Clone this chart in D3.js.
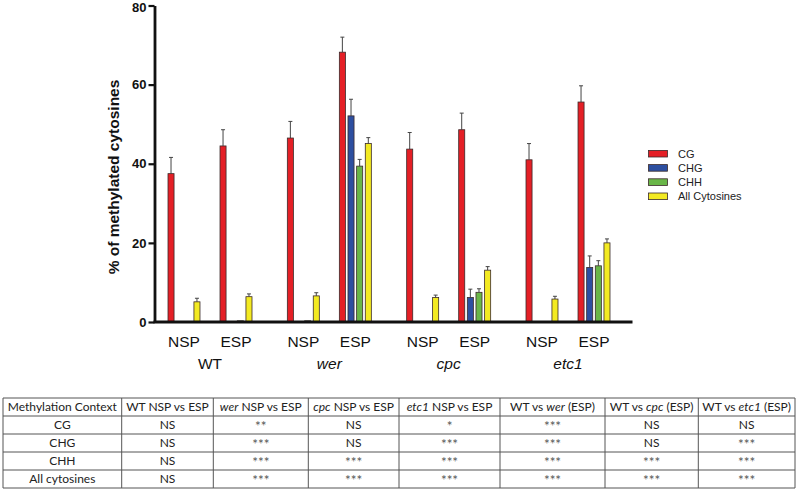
<!DOCTYPE html>
<html>
<head>
<meta charset="utf-8">
<script src="https://cdn.jsdelivr.net/npm/d3@7"></script>
<style>
  html, body { margin: 0; padding: 0; background: #fff; }
  svg { display: block; }
</style>
</head>
<body>
<svg id="chart" width="800" height="489"></svg>
<script>
// ---------------- DATA ----------------
const genotypes = ["WT", "wer", "cpc", "etc1"];
const conditions = ["NSP", "ESP"];
const seriesNames = ["CG", "CHG", "CHH", "All Cytosines"];
const yTicks = [0, 20, 40, 60, 80];

// order of groups: WT NSP, WT ESP, wer NSP, wer ESP, cpc NSP, cpc ESP, etc1 NSP, etc1 ESP
const cgValues  = [37.5, 44.5, 46.5, 68.2, 43.7, 48.6, 41.0, 55.6];
const cgErrors  = [4.1, 4.1, 4.2, 3.8, 4.2, 4.2, 4.1, 4.1];
const chgValues = [0, 0, 0, 52.1, 0, 6.2, 0, 13.8];
const chgErrors = [0, 0, 0, 4.2, 0, 2.1, 0, 2.9];
const chhValues = [0, 0.3, 0.3, 39.4, 0, 7.5, 0, 14.2];
const chhErrors = [0, 0, 0, 1.7, 0, 0.9, 0, 1.3];
const allValues = [5.1, 6.4, 6.6, 45.1, 6.2, 13.1, 5.8, 20.0];
const allErrors = [0.9, 0.7, 0.8, 1.5, 0.6, 0.9, 0.7, 1.0];

const yTitle = "% of methylated cytosines";

const tableHeader = ["Methylation Context", "WT NSP vs ESP", "wer NSP vs ESP", "cpc NSP vs ESP",
  "etc1 NSP vs ESP", "WT vs wer (ESP)", "WT vs cpc (ESP)", "WT vs etc1 (ESP)"];
const tableContexts = ["CG", "CHG", "CHH", "All cytosines"];
const tableCG  = ["NS", "**",  "NS",  "*",   "***", "NS",  "NS"];
const tableCHG = ["NS", "***", "NS",  "***", "***", "NS",  "***"];
const tableCHH = ["NS", "***", "***", "***", "***", "***", "***"];
const tableAll = ["NS", "***", "***", "***", "***", "***", "***"];
const italicWords = ["wer", "cpc", "etc1"];

// ---------------- LAYOUT / STYLE ----------------
const colors = { "CG": "#e41f26", "CHG": "#2d4fa0", "CHH": "#69b648", "All Cytosines": "#f3ea22" };
const tableCols = [3, 121.7, 213.3, 308.3, 399, 500, 605, 698.3, 795];
const tableTop = 398, rowH = 18;

const svg = d3.select("#chart");

const y = d3.scaleLinear().domain([0, 80]).range([322, 5.5]);
const x0 = d3.scaleBand().domain(genotypes).range([150.33, 627.67]).padding(0);
const x1 = d3.scaleBand().domain(conditions).range([17.67, 101.67]).paddingInner(0.385).paddingOuter(0);
const x2 = d3.scaleBand().domain(seriesNames).range([0, x1.bandwidth()]).paddingInner(0.3).paddingOuter(0);

const seriesData = {
  "CG": [cgValues, cgErrors],
  "CHG": [chgValues, chgErrors],
  "CHH": [chhValues, chhErrors],
  "All Cytosines": [allValues, allErrors]
};

const bars = [];
genotypes.forEach((g, gi) => {
  conditions.forEach((c, ci) => {
    const idx = gi * 2 + ci;
    seriesNames.forEach(s => {
      const v = seriesData[s][0][idx], e = seriesData[s][1][idx];
      bars.push({ g, c, s, v, e });
    });
  });
});
const barX = d => x0(d.g) + x1(d.c) + x2(d.s);

// error bars
const eb = svg.append("g").attr("class", "errors");
bars.filter(d => d.e > 0).forEach(d => {
  const cx = barX(d) + x2.bandwidth() / 2;
  eb.append("line").attr("x1", cx).attr("x2", cx)
    .attr("y1", y(d.v)).attr("y2", y(d.v + d.e))
    .attr("stroke", "#444").attr("stroke-width", 1);
  eb.append("line").attr("x1", cx - 2).attr("x2", cx + 2)
    .attr("y1", y(d.v + d.e)).attr("y2", y(d.v + d.e))
    .attr("stroke", "#444").attr("stroke-width", 1);
});

svg.append("g").selectAll("rect").data(bars.filter(d => d.v > 0)).join("rect")
  .attr("x", barX)
  .attr("y", d => y(d.v))
  .attr("width", x2.bandwidth())
  .attr("height", d => y(0) - y(d.v))
  .attr("fill", d => colors[d.s])
  .attr("stroke", "#3a2a2a")
  .attr("stroke-width", 0.8);

// y axis
const yAxis = svg.append("g").attr("transform", "translate(154.5,0)")
  .call(d3.axisLeft(y).tickValues(yTicks).tickSize(6).tickSizeOuter(0).tickPadding(2));
yAxis.select(".domain").attr("stroke", "#111").attr("stroke-width", 2.8);
yAxis.selectAll(".tick line").attr("stroke", "#111").attr("stroke-width", 2.2);
yAxis.selectAll(".tick text").attr("font-family", "Liberation Sans, Arial, sans-serif")
  .attr("font-size", 13).attr("font-weight", "bold").attr("fill", "#111")
  .attr("dy", d => d === 80 ? "0.45em" : "0.32em");

// x axis baseline
const xLine = d3.scaleLinear().domain([0, 1]).range([153.5, 632.5]);
svg.append("line").attr("x1", xLine(0)).attr("x2", xLine(1))
  .attr("y1", y(0)).attr("y2", y(0)).attr("stroke", "#111").attr("stroke-width", 2.8);

// condition and genotype labels
genotypes.forEach(g => {
  conditions.forEach(c => {
    svg.append("text")
      .attr("x", x0(g) + x1(c) + x1.bandwidth() / 2)
      .attr("y", 346.5)
      .attr("text-anchor", "middle")
      .attr("font-family", "Liberation Sans, Arial, sans-serif")
      .attr("font-size", 15.5).attr("fill", "#111")
      .text(c);
  });
  svg.append("text")
    .attr("x", x0(g) + x0.bandwidth() / 2)
    .attr("y", 369)
    .attr("text-anchor", "middle")
    .attr("font-family", "Liberation Sans, Arial, sans-serif")
    .attr("font-size", 15.5).attr("fill", "#111")
    .attr("font-style", g === "WT" ? "normal" : "italic")
    .text(g);
});

// y title
svg.append("text")
  .attr("transform", "translate(119,177) rotate(-90)")
  .attr("text-anchor", "middle")
  .attr("font-family", "Liberation Sans, Arial, sans-serif")
  .attr("font-size", 15.5).attr("font-weight", "bold").attr("fill", "#111")
  .text(yTitle);

// legend
const lg = svg.append("g");
seriesNames.forEach((s, i) => {
  const cy = 153.7 + i * 14.2;
  lg.append("rect").attr("x", 648.5).attr("y", cy - 3.3).attr("width", 19).attr("height", 6.6)
    .attr("fill", colors[s]).attr("stroke", "#3a2a2a").attr("stroke-width", 0.8);
  lg.append("text").attr("x", 678).attr("y", cy + 4)
    .attr("font-family", "Liberation Sans, Arial, sans-serif")
    .attr("font-size", 11).attr("fill", "#222").text(s);
});

// table
const tg = svg.append("g");
const tableBody = [tableCG, tableCHG, tableCHH, tableAll];
const nRows = 1 + tableBody.length;
for (let r = 0; r <= nRows; r++) {
  tg.append("line").attr("x1", tableCols[0]).attr("x2", tableCols[tableCols.length - 1])
    .attr("y1", tableTop + r * rowH).attr("y2", tableTop + r * rowH)
    .attr("stroke", "#555").attr("stroke-width", 1);
}
tableCols.forEach(cx => {
  tg.append("line").attr("x1", cx).attr("x2", cx)
    .attr("y1", tableTop).attr("y2", tableTop + nRows * rowH)
    .attr("stroke", "#555").attr("stroke-width", 1);
});
function cellText(txt, col, row) {
  const cx = (tableCols[col] + tableCols[col + 1]) / 2;
  const t = tg.append("text").attr("x", cx).attr("y", tableTop + row * rowH + rowH / 2 + 4.2)
    .attr("text-anchor", "middle")
    .attr("font-family", "Lato, 'Open Sans', sans-serif")
    .attr("font-size", 12).attr("fill", "#222");
  const parts = txt.split(/(\s+)/);
  parts.forEach(p => {
    const ts = t.append("tspan").text(p);
    if (italicWords.includes(p)) ts.attr("font-style", "italic");
  });
  return t;
}
tableHeader.forEach((h, i) => cellText(h, i, 0));
tableContexts.forEach((c, r) => {
  cellText(c, 0, r + 1);
  tableBody[r].forEach((v, ci) => {
    const t = cellText(v, ci + 1, r + 1);
    if (v.startsWith("*")) t.attr("fill", "#555").attr("font-size", 13.5).attr("y", tableTop + (r + 1) * rowH + rowH / 2 + 6);
  });
});
</script>
</body>
</html>
